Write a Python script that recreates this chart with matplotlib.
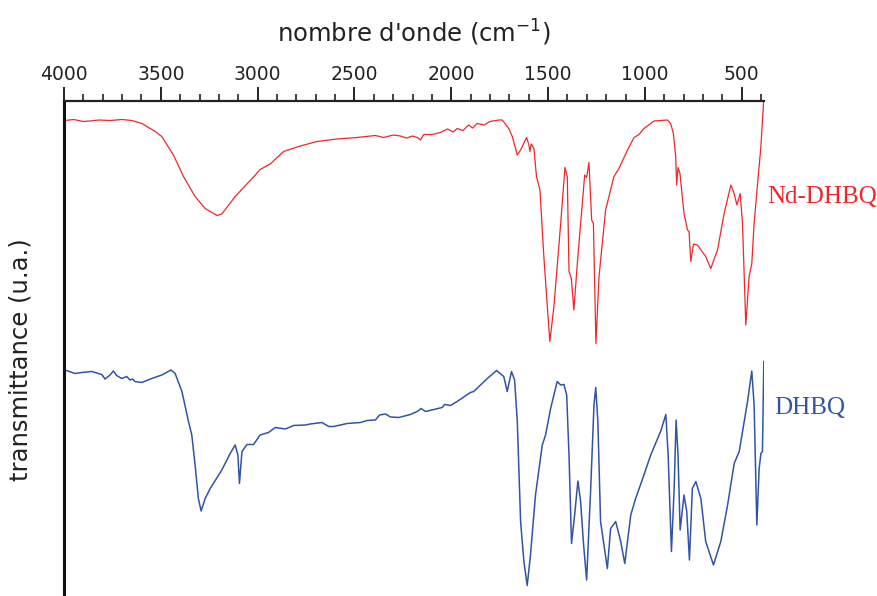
import matplotlib
matplotlib.use("Agg")
import matplotlib.pyplot as plt
from matplotlib.ticker import MultipleLocator

# Nd-DHBQ spectrum (wavenumber cm-1, transmittance a.u.)
nd_wn = [3995, 3950, 3900, 3866, 3820, 3762, 3700, 3650, 3598, 3529, 3495, 3435, 3383,
         3323, 3271, 3210, 3185, 3116, 3012, 2987, 2935, 2866, 2780, 2693, 2590, 2487,
         2392, 2349, 2300, 2263, 2230, 2200, 2176, 2159, 2142, 2100, 2056, 2020, 1990,
         1970, 1940, 1910, 1890, 1866, 1830, 1800, 1754, 1737, 1703, 1685, 1659, 1642,
         1611, 1599, 1594, 1587, 1573, 1560, 1542, 1522, 1504, 1491, 1470, 1435, 1413,
         1401, 1392, 1380, 1367, 1349, 1332, 1311, 1301, 1289, 1275, 1266, 1253, 1237,
         1203, 1160, 1134, 1090, 1056, 1031, 1005, 953, 884, 867, 853, 841, 836, 829,
         819, 798, 780, 772, 763, 749, 729, 686, 660, 625, 591, 556, 539, 525, 508,
         496, 479, 462, 448, 436, 418, 401, 386]
nd_t = [95.1, 95.3, 94.9, 95.0, 95.2, 95.1, 95.3, 95.1, 94.5, 92.9, 91.9, 88.2, 83.9,
        79.9, 77.5, 76.1, 76.4, 79.9, 84.2, 85.3, 86.4, 88.9, 90.0, 90.9, 91.4, 91.7,
        92.1, 91.7, 92.2, 92.0, 91.6, 92.0, 91.7, 91.2, 92.3, 92.3, 92.7, 93.4, 92.8,
        93.5, 93.1, 94.2, 93.6, 94.5, 94.2, 94.9, 95.2, 95.2, 93.5, 91.9, 88.2, 89.2,
        91.7, 90.2, 88.9, 90.4, 89.5, 83.9, 81.2, 67.9, 57.9, 50.9, 57.9, 74.5, 85.7,
        83.9, 64.9, 63.5, 57.2, 66.5, 74.5, 84.2, 83.7, 86.7, 75.2, 74.5, 50.5, 63.9,
        77.2, 83.9, 85.5, 89.2, 91.7, 92.3, 93.5, 95.0, 95.2, 94.5, 92.5, 87.9, 82.2,
        85.7, 84.5, 76.5, 73.2, 72.9, 66.9, 70.4, 70.2, 67.9, 65.5, 69.2, 76.5, 82.2,
        80.5, 78.2, 80.5, 74.5, 54.2, 63.9, 66.5, 74.5, 82.5, 89.9, 99.5]

# DHBQ spectrum
dh_wn = [3995, 3943, 3908, 3857, 3805, 3788, 3762, 3745, 3728, 3702, 3676, 3659, 3647,
         3633, 3598, 3547, 3495, 3447, 3426, 3391, 3357, 3340, 3323, 3306, 3292, 3271,
         3245, 3185, 3142, 3116, 3102, 3094, 3081, 3055, 3021, 2987, 2944, 2909, 2857,
         2814, 2754, 2728, 2668, 2633, 2608, 2538, 2469, 2435, 2392, 2370, 2340, 2314,
         2271, 2211, 2176, 2156, 2133, 2090, 2047, 2034, 2004, 1970, 1901, 1884, 1814,
         1766, 1729, 1711, 1689, 1673, 1659, 1642, 1625, 1608, 1591, 1565, 1530, 1513,
         1487, 1453, 1435, 1418, 1404, 1392, 1379, 1363, 1346, 1332, 1318, 1301, 1280,
         1263, 1254, 1243, 1229, 1194, 1177, 1151, 1125, 1104, 1073, 1048, 1005, 970,
         918, 892, 880, 863, 849, 839, 829, 818, 798, 784, 770, 755, 737, 711, 686, 646,
         608, 573, 539, 513, 470, 448, 436, 422, 410, 401, 393, 386]
dh_t = [45.2, 44.5, 44.7, 44.9, 44.3, 43.4, 44.2, 45.0, 44.1, 43.5, 43.9, 43.2, 43.4,
        42.9, 42.7, 43.5, 44.2, 45.2, 44.5, 40.9, 34.9, 32.2, 26.2, 19.5, 17.0, 19.5,
        21.5, 25.2, 28.5, 30.2, 28.2, 22.5, 28.9, 30.3, 30.3, 32.2, 32.7, 33.7, 33.4,
        34.1, 34.2, 34.4, 34.7, 33.9, 33.9, 34.5, 34.7, 35.1, 35.2, 36.2, 36.4, 35.8,
        35.7, 36.3, 36.9, 37.5, 36.9, 37.3, 37.7, 38.3, 38.1, 38.9, 40.7, 40.9, 43.5,
        45.1, 43.9, 40.9, 44.9, 43.2, 34.9, 14.9, 6.9, 2.1, 8.2, 20.2, 30.2, 32.2,
        37.5, 42.9, 42.2, 42.3, 40.2, 28.2, 10.5, 16.2, 23.0, 18.9, 10.9, 3.2, 21.5,
        38.2, 41.7, 34.9, 14.9, 5.5, 13.5, 14.9, 10.9, 6.5, 16.2, 19.5, 24.2, 28.2,
        33.0, 36.3, 28.2, 8.9, 21.5, 35.2, 28.2, 13.2, 20.2, 16.9, 7.2, 21.5, 22.9,
        19.5, 10.9, 6.2, 10.9, 18.2, 26.5, 28.9, 38.9, 45.0, 38.2, 14.2, 25.5, 28.5,
        28.9, 46.9]

series_labels = ["Nd-DHBQ", "DHBQ"]
x_ticks = [4000, 3500, 3000, 2500, 2000, 1500, 1000, 500]
x_title = "nombre d'onde (cm$^{\\mathregular{-1}}$)"
y_title = "transmittance (u.a.)"

RED = "#f0262b"
BLUE = "#3253a6"
FONT = "DejaVu Sans"

fig = plt.figure(figsize=(8.78, 5.96), dpi=100)
ax = fig.add_axes([64 / 878, 0.0, 700 / 878, 495 / 596])

ax.plot(nd_wn, nd_t, color=RED, lw=0.9, solid_joinstyle="round")
ax.plot(dh_wn, dh_t, color=BLUE, lw=1.1, solid_joinstyle="round")

ax.set_xlim(4000, 385)
ax.set_ylim(0, 99)

ax.xaxis.tick_top()
ax.xaxis.set_label_position("top")
ax.set_xticks(x_ticks)
ax.set_xticklabels([str(t) for t in x_ticks], fontfamily=FONT, fontsize=13.5,
                   color="#222222")
ax.xaxis.set_minor_locator(MultipleLocator(100))
ax.tick_params(axis="x", which="major", direction="out", length=10, width=1.4,
               pad=2, color="#222222")
ax.tick_params(axis="x", which="minor", direction="out", length=5, width=1.2,
               color="#222222")
ax.set_yticks([])

for s in ["right", "bottom"]:
    ax.spines[s].set_visible(False)
ax.spines["top"].set_linewidth(1.6)
ax.spines["top"].set_color("#222222")
ax.spines["left"].set_linewidth(2.2)
ax.spines["left"].set_color("#111111")

ax.set_xlabel(x_title, fontfamily=FONT, fontsize=17.5, labelpad=17, color="#222222")
ax.set_ylabel(y_title, fontfamily=FONT, fontsize=17.5, color="#222222")
ax.yaxis.set_label_coords(-0.045, 0.477)

ax.text(1.005, (596 - 197) / 5 / 99, series_labels[0], transform=ax.transAxes,
        color=RED, fontfamily="Liberation Serif", fontsize=18, va="center", ha="left")
ax.text(1.015, (596 - 408) / 5 / 99, series_labels[1], transform=ax.transAxes,
        color=BLUE, fontfamily="Liberation Serif", fontsize=18, va="center", ha="left")

fig.savefig("out.png", dpi=100)
